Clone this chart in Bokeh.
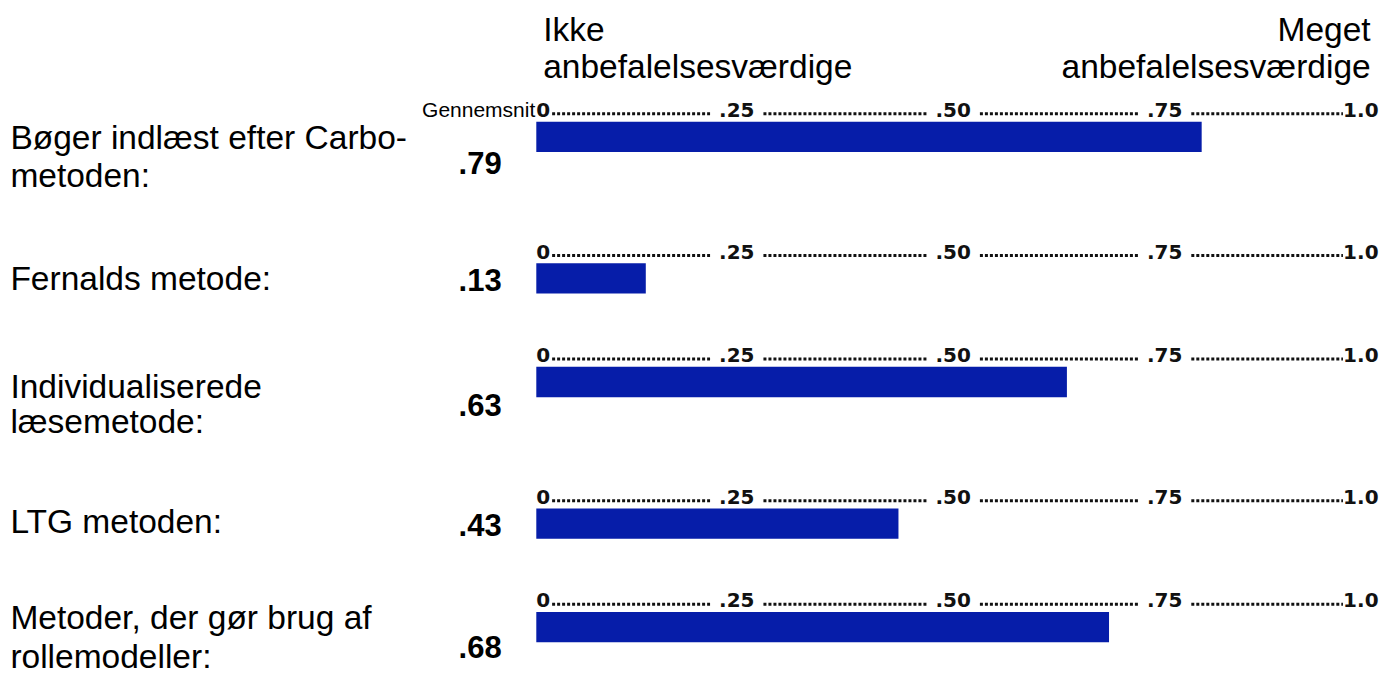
from bokeh.plotting import figure
from bokeh.models import Range1d, ColumnDataSource
from bokeh.core.properties import value
from bokeh.embed import file_html
from bokeh.resources import INLINE

# ---------------- data ----------------
categories = [
    "Bøger indlæst efter Carbo-\nmetoden:",
    "Fernalds metode:",
    "Individualiserede\nlæsemetode:",
    "LTG metoden:",
    "Metoder, der gør brug af\nrollemodeller:",
]
means = [0.79, 0.13, 0.63, 0.43, 0.68]
mean_labels = [".79", ".13", ".63", ".43", ".68"]
tick_values = [0.0, 0.25, 0.50, 0.75, 1.0]
tick_labels = ["0", ".25", ".50", ".75", "1.0"]
header_left = ["Ikke", "anbefalelsesværdige"]
header_right = ["Meget", "anbefalelsesværdige"]
mean_title = "Gennemsnit"

# ---------------- layout (reference pixel grid 1398 x 695) ----------------
W, H = 1382, 679
RW, RH = 1398, 695
PX0, PX1 = 542, 1394          # x of value 0 and value 1
SCALE = PX1 - PX0

def vx(px):
    return (px - PX0) / SCALE

# label positions on the scale (picture positions of the printed ticks)
tick_label_pos = [0.0, 0.238, 0.495, 0.746, 1.0]
tick_half = [0, 18, 18, 18, 0]

bar_tops = [124, 269, 375, 520, 626]
bar_h = 31
label_mid = [140, 285, 395, 533, 632]
label_step = [39, 0, 36, 0, 39]
value_mid = [166, 286, 414, 537, 662]

BLUE = "#061DA9"
FONT = value("Liberation Sans")
LAB_FS = "33.5px"

p = figure(width=W, height=H, output_backend="svg", toolbar_location=None,
           x_range=Range1d(vx(0), vx(RW)), y_range=Range1d(RH, 0),
           min_border=0, tools="")
p.xaxis.visible = False
p.yaxis.visible = False
p.grid.visible = False
p.outline_line_color = None
p.background_fill_color = "white"
p.border_fill_color = "white"

# bars
src = ColumnDataSource(dict(y=[t + bar_h / 2 for t in bar_tops], right=means))
p.hbar(y="y", left=0, right="right", height=bar_h, source=src,
       fill_color=BLUE, line_color=None)

# dotted scale above each bar
tfs = "20px"
tfont = value("DejaVu Sans")
for t in bar_tops:
    mid = t - 12
    common = dict(text_baseline="middle", text_font=tfont, text_font_style="bold",
                  text_font_size=tfs, text_color="#111111")
    p.text(x=[tick_label_pos[0]], y=[mid], text=[tick_labels[0]], text_align="left", **common)
    p.text(x=tick_label_pos[1:-1], y=[mid] * 3, text=tick_labels[1:-1], text_align="center", **common)
    p.text(x=[tick_label_pos[-1]], y=[mid], text=[tick_labels[-1]], text_align="right", **common)
    x0s, x1s = [], []
    for i in range(len(tick_label_pos) - 1):
        a, b = tick_label_pos[i], tick_label_pos[i + 1]
        start = a + (16 / SCALE if i == 0 else (tick_half[i] + 9) / SCALE)
        end = b - (36 / SCALE if i == len(tick_label_pos) - 2 else (tick_half[i + 1] + 9) / SCALE)
        x0s.append(start)
        x1s.append(end)
    p.segment(x0=x0s, y0=[t - 8] * len(x0s), x1=x1s, y1=[t - 8] * len(x0s),
              line_width=3, line_dash="3 2", line_color="#111111", line_cap="butt")

# header
p.text(x=[vx(549)] * 2, y=[30, 68], text=header_left, text_align="left",
       text_baseline="middle", text_font=FONT, text_font_size=LAB_FS, text_color="black")
p.text(x=[vx(1386)] * 2, y=[30, 68], text=header_right, text_align="right",
       text_baseline="middle", text_font=FONT, text_font_size=LAB_FS, text_color="black")

# "Gennemsnit"
p.text(x=[0], y=[112], text=[mean_title], text_align="right", text_baseline="middle",
       text_font=FONT, text_font_size="21px", text_color="black", x_offset=-1)

# category labels
lx, ly, lt = [], [], []
for cat, m, step in zip(categories, label_mid, label_step):
    for k, line in enumerate(cat.split("\n")):
        lx.append(vx(10))
        ly.append(m + k * step)
        lt.append(line)
p.text(x=lx, y=ly, text=lt, text_align="left", text_baseline="middle",
       text_font=FONT, text_font_size=LAB_FS, text_color="black")

# mean values
p.text(x=[vx(507)] * len(mean_labels), y=value_mid, text=mean_labels, text_align="right",
       text_baseline="middle", text_font=FONT, text_font_style="bold",
       text_font_size="31px", text_color="black")

open("out.html", "w").write(file_html(p, INLINE))
